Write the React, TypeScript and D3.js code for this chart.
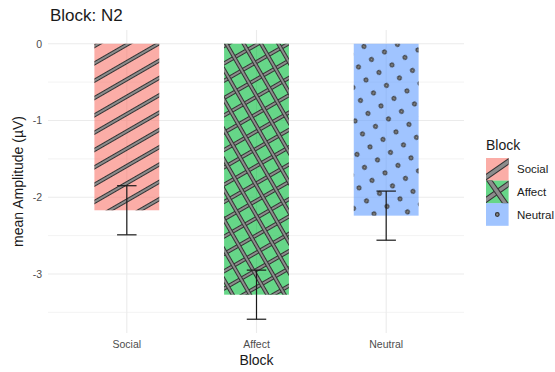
import React from "react";
import * as d3 from "d3";

// values
const blocks = ["Social", "Affect", "Neutral"];
const meanAmp = [-2.17, -3.27, -2.24];
const seAmp = [0.32, 0.32, 0.32];
const yTicks = [0, -1, -2, -3];
const yMinor = [-0.5, -1.5, -2.5, -3.5];
const fills = ["#F8766D", "#00BA38", "#619CFF"];
const patterns = ["stripe", "crosshatch", "circle"];

const W = 555, H = 372;
const margin = { top: 30, right: 91, bottom: 39, left: 49 };

const STRIPE_DARK = "#333333";
const STRIPE_LIGHT = "#8c8c8c";

function App() {
  const lo = d3.min(meanAmp.map((m, i) => m - seAmp[i])) as number;
  const hi = 0;
  const pad = (hi - lo) * 0.05;

  const y = d3.scaleLinear()
    .domain([lo - pad, hi + pad])
    .range([H - margin.bottom, margin.top]);

  const x = d3.scalePoint<string>()
    .domain(blocks)
    .range([margin.left, W - margin.right])
    .padding(0.6);

  const step = x.step();
  const barW = step * 0.5;
  const capW = step * 0.15;

  const font = "'Liberation Sans', Arial, sans-serif";

  // legend
  const legX = 486, legY = 158, key = 22.6;

  const outlinedLine = (x1: number, y1: number, x2: number, y2: number, w: number, k: string) => (
    <g key={k}>
      <line x1={x1} y1={y1} x2={x2} y2={y2} stroke={STRIPE_DARK} strokeWidth={w + 2} />
      <line x1={x1} y1={y1} x2={x2} y2={y2} stroke={STRIPE_LIGHT} strokeWidth={w} />
    </g>
  );

  const legendKey = (i: number) => {
    const kx = legX, ky = legY + i * key;
    const cx = kx + key / 2, cy = ky + key / 2;
    const L = 20;
    const dir = (deg: number) => {
      const r = (deg * Math.PI) / 180;
      return [Math.cos(r) * L, -Math.sin(r) * L];
    };
    let marks: any = null;
    if (patterns[i] === "stripe") {
      const [dx, dy] = dir(35);
      marks = outlinedLine(cx - dx, cy - dy, cx + dx, cy + dy, 3.5, "s");
    } else if (patterns[i] === "crosshatch") {
      const [ax, ay] = dir(35);
      const [bx, by] = dir(-55);
      marks = (
        <g>
          {outlinedLine(cx - ax, cy - ay, cx + ax, cy + ay, 3.5, "a")}
          {outlinedLine(cx - bx, cy - by, cx + bx, cy + by, 3.5, "b")}
        </g>
      );
    } else {
      marks = <circle cx={cx} cy={cy} r={1.8} fill={STRIPE_LIGHT} stroke={STRIPE_DARK} strokeWidth={1.2} />;
    }
    return (
      <g key={blocks[i]}>
        <clipPath id={`kclip${i}`}>
          <rect x={kx} y={ky} width={key} height={key} />
        </clipPath>
        <rect x={kx} y={ky} width={key} height={key} fill={fills[i]} fillOpacity={0.6} />
        <g clipPath={`url(#kclip${i})`}>{marks}</g>
        <text x={517} y={cy + 4} fontSize={11.5} fill="#1a1a1a">{blocks[i]}</text>
      </g>
    );
  };

  return (
    <svg width={W} height={H} style={{ position: "absolute", left: 0, top: 0, background: "#fff" }} fontFamily={font}>
      <defs>
        <pattern id="pat-stripe" patternUnits="userSpaceOnUse" width={15} height={15}
          patternTransform={`translate(${(x("Social") as number) - barW / 2},${y(0)}) rotate(-30)`}>
          <rect x={-1} y={0.5} width={17} height={3} fill={STRIPE_LIGHT} stroke={STRIPE_DARK} strokeWidth={1} />
        </pattern>
        <pattern id="pat-crosshatch" patternUnits="userSpaceOnUse" width={15} height={15}
          patternTransform={`translate(${(x("Affect") as number) - barW / 2},${y(0)}) rotate(-30)`}>
          <rect x={-1} y={0.5} width={17} height={3} fill={STRIPE_LIGHT} stroke={STRIPE_DARK} strokeWidth={1} />
          <rect x={0.5} y={-1} width={3} height={17} fill={STRIPE_LIGHT} stroke={STRIPE_DARK} strokeWidth={1} />
        </pattern>
        <pattern id="pat-circle" patternUnits="userSpaceOnUse" width={15} height={15}
          patternTransform={`translate(${(x("Neutral") as number) - barW / 2},${y(0)}) rotate(-30)`}>
          <circle cx={7.5} cy={7.5} r={1.8} fill={STRIPE_LIGHT} stroke={STRIPE_DARK} strokeWidth={1.2} />
        </pattern>
      </defs>

      {/* grid */}
      {yMinor.map(t => (
        <line key={"mn" + t} x1={margin.left - 1} x2={W - margin.right} y1={y(t)} y2={y(t)} stroke="#ebebeb" strokeWidth={0.6} />
      ))}
      {yTicks.map(t => (
        <line key={"mj" + t} x1={margin.left - 1} x2={W - margin.right} y1={y(t)} y2={y(t)} stroke="#ebebeb" strokeWidth={1.1} />
      ))}
      {blocks.map(b => (
        <line key={"vx" + b} x1={x(b)} x2={x(b)} y1={margin.top} y2={H - margin.bottom} stroke="#ebebeb" strokeWidth={1.1} />
      ))}

      {/* bars */}
      {blocks.map((b, i) => {
        const x0 = (x(b) as number) - barW / 2;
        const top = y(Math.max(0, meanAmp[i]));
        const h = Math.abs(y(meanAmp[i]) - y(0));
        return (
          <g key={"bar" + b}>
            <rect x={x0} y={top} width={barW} height={h} fill={fills[i]} fillOpacity={0.6} />
            <rect x={x0} y={top} width={barW} height={h} fill={`url(#pat-${patterns[i]})`} />
          </g>
        );
      })}

      {/* error bars */}
      {blocks.map((b, i) => {
        const cx = x(b) as number;
        const y1 = y(meanAmp[i] + seAmp[i]);
        const y2 = y(meanAmp[i] - seAmp[i]);
        return (
          <g key={"err" + b} stroke="#1a1a1a" strokeWidth={1.2}>
            <line x1={cx} x2={cx} y1={y1} y2={y2} />
            <line x1={cx - capW / 2} x2={cx + capW / 2} y1={y1} y2={y1} />
            <line x1={cx - capW / 2} x2={cx + capW / 2} y1={y2} y2={y2} />
          </g>
        );
      })}

      {/* axes labels */}
      {yTicks.map(t => (
        <text key={"yl" + t} x={margin.left - 7} y={y(t) + 3.8} textAnchor="end" fontSize={10.5} fill="#4d4d4d">{t}</text>
      ))}
      {blocks.map(b => (
        <text key={"xl" + b} x={x(b)} y={348} textAnchor="middle" fontSize={10.5} fill="#4d4d4d">{b}</text>
      ))}

      <text x={(margin.left + W - margin.right) / 2} y={365} textAnchor="middle" fontSize={14} fill="#1a1a1a">Block</text>
      <text transform={`translate(23,${(margin.top + H - margin.bottom) / 2}) rotate(-90)`} textAnchor="middle" fontSize={14} fill="#1a1a1a">mean Amplitude (µV)</text>

      <text x={50} y={20.5} fontSize={17} fill="#1a1a1a">Block: N2</text>

      {/* legend */}
      <text x={legX} y={149.5} fontSize={14} fill="#1a1a1a">Block</text>
      {blocks.map((_, i) => legendKey(i))}
    </svg>
  );
}

export default App;
